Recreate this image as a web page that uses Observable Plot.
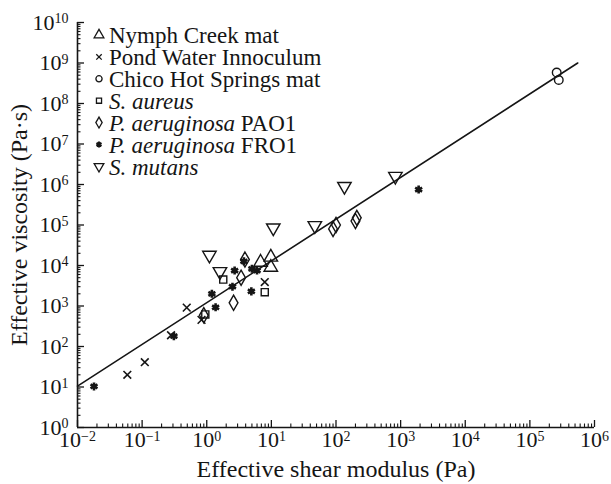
<!DOCTYPE html>
<html><head><meta charset="utf-8">
<script src="https://cdn.jsdelivr.net/npm/d3@7"></script>
<script src="https://cdn.jsdelivr.net/npm/@observablehq/plot@0.6"></script>
<style>body{margin:0;background:#fff} #chart{width:611px;height:484px} #chart svg, #chart svg text, #chart svg tspan{font-family:"Liberation Serif","Times New Roman",serif !important}</style>
</head><body><div id="chart"></div>
<script>
// ---- data (effective shear modulus G [Pa], effective viscosity eta [Pa·s]) ----
const nymphCreek = [[6.8,1.2e4],[9.8,1.6e4],[9.8,9.0e3]];
const pondWater = [[0.059,20],[0.11,41],[0.28,190],[0.49,910],[0.83,455],[7.9,3.9e3]];
const chicoHot = [[2.6e5,5.8e8],[2.8e5,3.8e8]];
const sAureus = [[1.8,4.5e3],[7.9,2.2e3],[0.95,620]];
const paPAO1 = [[0.9,590],[2.6,1.2e3],[3.4,5.0e3],[3.9,1.4e4],[90,8.0e4],[100,1.0e5],[200,1.25e5],[210,1.5e5]];
const paFRO1 = [[0.018,10.3],[0.31,180],[1.2,2.0e3],[1.37,930],[2.5,3.0e3],[2.7,7.5e3],[3.76,1.27e4],[4.9,2.3e3],[5.0,8.3e3],[6.0,7.5e3],[1900,7.5e5]];
const sMutans = [[1.1,1.8e4],[1.6,7.1e3],[10.7,8.5e4],[47,9.7e4],[135,9.0e5],[830,1.6e6]];
const fitLine = [[0.01,10.5],[5.5e5,1.0e9]];

const xMajor = [1e-2,1e-1,1e0,1e1,1e2,1e3,1e4,1e5,1e6];
const yMajor = [1e0,1e1,1e2,1e3,1e4,1e5,1e6,1e7,1e8,1e9,1e10];
const legendItalic = ["", "", "", "S. aureus", "P. aeruginosa", "P. aeruginosa", "S. mutans"];
const legendPlain = ["Nymph Creek mat", "Pond Water Innoculum", "Chico Hot Springs mat", "", " PAO1", " FRO1", ""];

// ---- layout ----
const W = 611, H = 484, mL = 77, mR = 17, mT = 22, mB = 57;
const innerW = W - mL - mR, innerH = H - mT - mB;
const serif = '"Liberation Serif", "Times New Roman", serif';

// ---- symbols ----
const triDown = {draw(ctx, size){ const y = -Math.sqrt(size/(Math.sqrt(3)*3)); ctx.moveTo(0,-y*2); ctx.lineTo(-Math.sqrt(3)*y, y); ctx.lineTo(Math.sqrt(3)*y, y); ctx.closePath(); }};
const seriesData = [nymphCreek, pondWater, chicoHot, sAureus, paPAO1, paFRO1, sMutans];
const seriesSym = [d3.symbolTriangle, d3.symbolTimes, d3.symbolCircle, d3.symbolSquare, d3.symbolDiamond, d3.symbolAsterisk, triDown];
const seriesR = [5, 3.6, 4.3, 4.0, 4.6, 3.8, 5];
const seriesSW = [1.4, 1.6, 1.4, 1.4, 1.4, 2.6, 1.4];

const minorOf = (majors) => majors.slice(0,-1).flatMap(d => [2,3,4,5,6,7,8,9].map(k => d*k));
const xMinor = minorOf(xMajor), yMinor = minorOf(yMajor);
const ink = "#151515";

const marks = [
  Plot.line(fitLine, {x: d=>d[0], y: d=>d[1], stroke: ink, strokeWidth: 1.6}),
  ...seriesData.map((data,i) => Plot.dot(data, {x: d=>d[0], y: d=>d[1], symbol: seriesSym[i], r: seriesR[i], stroke: ink, strokeWidth: seriesSW[i], fill: "none"})),
  Plot.tickX(xMajor, {x: d=>d, insetTop: innerH - 7, stroke: ink, strokeWidth: 1.3}),
  Plot.tickX(xMinor, {x: d=>d, insetTop: innerH - 3.5, stroke: ink, strokeWidth: 1.1}),
  Plot.tickY(yMajor, {y: d=>d, insetRight: innerW - 7, stroke: ink, strokeWidth: 1.3}),
  Plot.tickY(yMinor, {y: d=>d, insetRight: innerW - 3.5, stroke: ink, strokeWidth: 1.1}),
  Plot.ruleX([xMajor[0]], {stroke: ink, strokeWidth: 1.6}),
  Plot.ruleY([yMajor[0]], {stroke: ink, strokeWidth: 1.6}),
  Plot.axisX({ticks: xMajor, tickSize: 0, tickPadding: 4, tickFormat: d => "10^" + Math.round(Math.log10(d)), fontSize: 22, label: null}),
  Plot.axisY({ticks: yMajor, tickSize: 0, tickPadding: 9, tickFormat: d => "10^" + Math.round(Math.log10(d)), fontSize: 22, label: null}),
  Plot.text(["Effective shear modulus (Pa)"], {frameAnchor: "bottom", dy: 42, textAnchor: "middle", lineAnchor: "middle", fontSize: 24, fill: ink}),
  Plot.text(["Effective viscosity (Pa·s)"], {frameAnchor: "left", dx: -58, rotate: -90, textAnchor: "middle", lineAnchor: "middle", fontSize: 24, fill: ink})
];

const chart = Plot.plot({
  width: W, height: H,
  marginLeft: mL, marginRight: mR, marginTop: mT, marginBottom: mB,
  x: {type: "log", domain: [1e-2, 1e6]},
  y: {type: "log", domain: [1e0, 1e10]},
  style: {fontFamily: serif, fontSize: "22px", background: "#fff", color: ink, overflow: "visible"},
  marks
});
document.getElementById("chart").appendChild(chart);

// superscript exponents in tick labels
const svg = d3.select(chart);
svg.selectAll('g[aria-label="x-axis tick label"] text, g[aria-label="y-axis tick label"] text').each(function(){
  const t = d3.select(this);
  const s = t.text();
  if (!s.startsWith("10^")) return;
  const e = s.slice(3).replace("-", "\u2212");
  t.text("10");
  t.append("tspan").attr("dy", "-0.45em").attr("font-size", "14px").text(e);
});

// legend inside the plot area
const lg = svg.append("g").style("font-family", serif).attr("font-size", "23px").attr("fill", ink).attr("text-anchor", "start");
legendPlain.forEach((p, i) => {
  const y = 35 + i * 21.9;
  lg.append("path").attr("transform", `translate(99,${y})`)
    .attr("d", d3.symbol(seriesSym[i], Math.PI * Math.pow(seriesR[i]*0.72, 2))())
    .attr("fill", "none").attr("stroke", ink).attr("stroke-width", i === 5 ? 2.2 : 1.3);
  const tx = lg.append("text").attr("x", 109).attr("y", y).attr("dy", "0.36em").attr("text-anchor", "start");
  if (legendItalic[i]) tx.append("tspan").attr("font-style", "italic").text(legendItalic[i]);
  if (p) tx.append("tspan").text(p);
});
</script>
</body></html>
